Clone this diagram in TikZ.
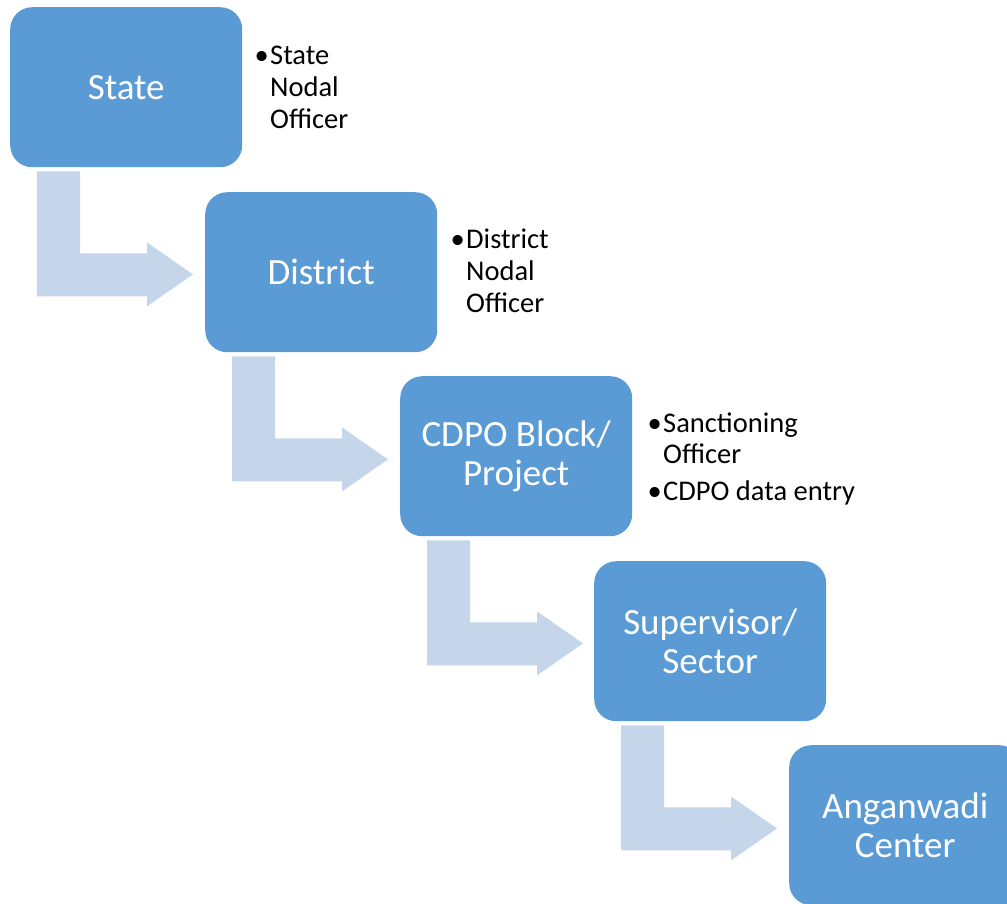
\documentclass[tikz,border=0pt]{standalone}
\usepackage{fontspec}
\setmainfont{Carlito}
\definecolor{boxblue}{HTML}{5B9BD5}
\definecolor{arrowblue}{HTML}{C5D5EA}
\begin{document}
\begin{tikzpicture}[x=1pt,y=-1pt,
  stepbox/.style={fill=boxblue, rounded corners=22pt, minimum width=232pt,
    minimum height=160pt, inner sep=0pt, text=white,
    font=\fontsize{37}{39}\selectfont, align=center, anchor=north west},
  itemtext/.style={font=\fontsize{28.5}{32}\selectfont, anchor=base west, inner sep=0pt},
  itembullet/.style={font=\fontsize{28.5}{32}\selectfont, anchor=base east, inner sep=0pt},
  bentarrow/.style={fill=arrowblue}]
\clip (0,0) rectangle (1007,903);
\node[stepbox] (state) at (10,7) {State};
\node[stepbox] (district) at (205,192) {District};
\node[stepbox] (cdpo) at (400,376) {CDPO Block/\\Project};
\node[stepbox] (super) at (594,561) {Supervisor/\\Sector};
\node[stepbox] (angan) at (789,745) {Anganwadi\\Center};
\foreach \b in {state,district,cdpo,super}{
  \fill[bentarrow, shift={(\b.south west)}] (27,4) -- (70,4) -- (70,86) -- (137,86)
    -- (137,75) -- (183,107) -- (137,139) -- (137,129) -- (27,129) -- cycle;
}
% State items
\node[itembullet] (sb) at (269,64) {•};
\node[itemtext] (s1) at (270,64) {State};
\node[itemtext] (s2) at (270,96) {Nodal};
\node[itemtext] (s3) at (270,128) {Officer};
% District items
\node[itembullet] (db) at (465,248) {•};
\node[itemtext] (d1) at (466,248) {District};
\node[itemtext] (d2) at (466,280) {Nodal};
\node[itemtext] (d3) at (466,312) {Officer};
% CDPO items
\node[itembullet] (cb1) at (662,432) {•};
\node[itemtext] (c1) at (663,432) {Sanctioning};
\node[itemtext] (c2) at (663,463) {Officer};
\node[itembullet] (cb2) at (662,500) {•};
\node[itemtext] (c3) at (663,500) {CDPO data entry};
\end{tikzpicture}
\end{document}
